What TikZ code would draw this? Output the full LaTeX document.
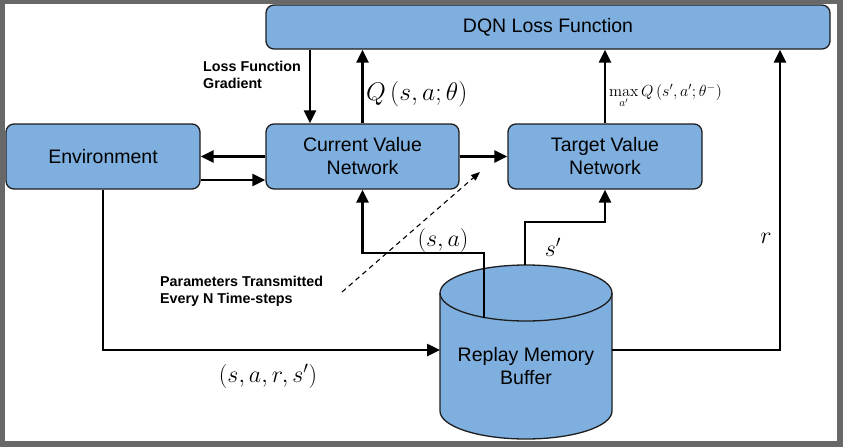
\documentclass[tikz,border=0pt]{standalone}
\usepackage{fix-cm}
\usepackage{amsmath}
\usepackage[no-math]{fontspec}
\setmainfont{Liberation Sans}
\usetikzlibrary{calc,positioning,arrows.meta}
\definecolor{dqnblue}{RGB}{126,175,223}
\definecolor{dqnedge}{RGB}{30,30,30}
\definecolor{shotgray}{RGB}{104,104,104}
\tikzset{
  blockbox/.style={draw=dqnedge,fill=dqnblue,line width=1.3pt,rounded corners=8pt,
    align=center,inner sep=0pt,font=\fontsize{19.5}{23}\selectfont},
  flowline/.style={draw=black,line width=2.5pt,-{Triangle[length=13pt,width=12pt]}},
  dashline/.style={draw=black,line width=1.1pt,dash pattern=on 5pt off 4pt,
    -{Triangle[length=9pt,width=7pt]}},
  notefont/.style={font=\fontsize{14.3}{17}\selectfont\bfseries,align=left,inner sep=0pt},
  mathlab/.style={font=\fontsize{24}{28}\selectfont,inner sep=0pt},
}

\begin{document}
\begin{tikzpicture}[x=1pt,y=1pt]
        \useasboundingbox (0,0) rectangle (843,-447);
        \fill[shotgray] (0,0) rectangle (843,-447);
        \fill[white] (5,-4) rectangle (837,-441);
        % blocks
        \node[blockbox,minimum width=564pt,minimum height=44pt] (loss) at (548,-27) {DQN Loss Function};
        \node[blockbox,minimum width=194pt,minimum height=65pt] (env) at (103,-156.5) {Environment};
        \node[blockbox,minimum width=193pt,minimum height=65pt] (cur) at (362.5,-156.5) {Current Value\\Network};
        \node[blockbox,minimum width=194pt,minimum height=65pt] (tgt) at (605,-156.5) {Target Value\\Network};
        % replay memory cylinder
        \fill[dqnblue] (440,-293) -- (440,-411) arc[start angle=180,end angle=360,x radius=86,y radius=28]
          -- (612,-293) arc[start angle=0,end angle=180,x radius=86,y radius=28] -- cycle;
        \draw[dqnedge,line width=1.3pt] (440,-293) -- (440,-411) arc[start angle=180,end angle=360,x radius=86,y radius=28]
          -- (612,-293) arc[start angle=0,end angle=180,x radius=86,y radius=28];
        \draw[dqnedge,line width=1.3pt] (440,-293) arc[start angle=180,end angle=360,x radius=86,y radius=28];
        \node[align=center,inner sep=0pt,font=\fontsize{19.5}{23}\selectfont] (mem) at (526,-366) {Replay Memory\\Buffer};
        \coordinate (memin) at (440,-350);
        \coordinate (memout) at (612,-350);
        \coordinate (satop) at (484,-318);
        \coordinate (sabend) at (484,-253);
        \coordinate (sptop) at (525,-265);
        \coordinate (spbend) at (525,-222);
        \coordinate (rbend) at (780,-350);
        \coordinate (dshfrom) at (342,-292);
        \coordinate (dshto) at (480,-172);
        % connectors
        \draw[flowline] ([xshift=-52.5pt]cur.north |- loss.south) -- ([xshift=-52.5pt]cur.north);
        \draw[flowline] (cur.north) -- (cur.north |- loss.south);
        \draw[flowline] (tgt.north) -- (tgt.north |- loss.south);
        \draw[flowline] (memout) -- (rbend) -- (rbend |- loss.south);
        \draw[flowline] (cur.west) -- (env.east);
        \draw[flowline] ([yshift=-23.5pt]env.east) -- ([yshift=-23.5pt]cur.west);
        \draw[flowline] (cur.east) -- (tgt.west);
        \draw[flowline] (env.south) |- (memin);
        \draw[flowline] (satop) -- (sabend) -| (cur.south);
        \draw[flowline] (sptop) -- (spbend) -| (tgt.south);
        \draw[dashline] (dshfrom) -- (dshto);
        % labels
        \node[notefont,anchor=north west] (gradlab) at (203,-61) {Loss Function\\Gradient};
        \node[mathlab,font=\fontsize{25.5}{30}\selectfont,anchor=west] (qlab) at (366,-94) {$Q\left(s,a;\theta\right)$};
        \node[font=\fontsize{16}{19}\selectfont,anchor=west,inner sep=0pt] (maxlab) at (609,-96)
          {$\max\limits_{a'} Q\left(s',a';\theta^{-}\right)$};
        \node[notefont,anchor=north west] (parlab) at (160,-276) {Parameters Transmitted\\Every N Time-steps};
        \node[mathlab] (salab) at (443,-240) {$(s,a)$};
        \node[mathlab] (splab) at (553,-247) {$s'$};
        \node[mathlab] (rlab) at (766,-238) {$r$};
        \node[mathlab] (tuplab) at (268,-376) {$(s,a,r,s')$};
\end{tikzpicture}
\end{document}
